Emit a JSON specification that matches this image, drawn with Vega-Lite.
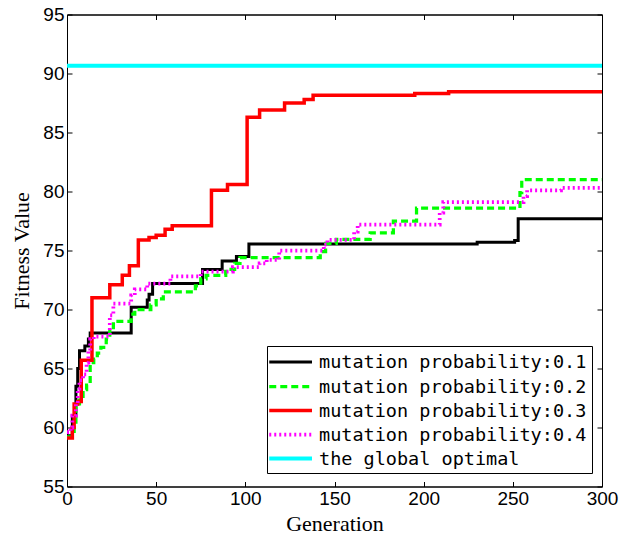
{
  "$schema": "https://vega.github.io/schema/vega-lite/v6.json",
  "width": 535,
  "height": 472,
  "autosize": {"type": "none"},
  "padding": {"left": 67, "top": 14.5, "right": 18, "bottom": 49.5},
  "background": "white",
  "config": {
    "view": {"stroke": "black", "strokeWidth": 1},
    "axis": {
      "domainColor": "black", "domainWidth": 1, "tickColor": "black", "tickWidth": 1,
      "tickSize": -5, "grid": false, "labelFlush": false,
      "labelColor": "black", "labelFont": "Liberation Sans", "labelFontSize": 19,
      "titleColor": "black", "titleFont": "Liberation Serif", "titleFontSize": 22, "titleFontWeight": "normal"
    },
    "legend": {
      "orient": "none", "legendX": 200, "legendY": 331.5,
      "fillColor": "white", "strokeColor": "black", "padding": 5,
      "labelFont": "DejaVu Sans Mono", "labelFontSize": 18.5, "labelColor": "black", "labelLimit": 400,
      "symbolType": "M-1.5,0H3", "symbolSize": 361, "labelOffset": 24, "rowPadding": 3
    }
  },
  "data": {"values": [
    {"series": "mutation probability:0.1", "gen": 0, "value": 59.3},
    {"series": "mutation probability:0.1", "gen": 3, "value": 61.0},
    {"series": "mutation probability:0.1", "gen": 5, "value": 63.5},
    {"series": "mutation probability:0.1", "gen": 6, "value": 65.0},
    {"series": "mutation probability:0.1", "gen": 7, "value": 66.5},
    {"series": "mutation probability:0.1", "gen": 10, "value": 66.9},
    {"series": "mutation probability:0.1", "gen": 12, "value": 67.5},
    {"series": "mutation probability:0.1", "gen": 13, "value": 68.0},
    {"series": "mutation probability:0.1", "gen": 36, "value": 70.2},
    {"series": "mutation probability:0.1", "gen": 45, "value": 70.8},
    {"series": "mutation probability:0.1", "gen": 46, "value": 71.3},
    {"series": "mutation probability:0.1", "gen": 48, "value": 72.2},
    {"series": "mutation probability:0.1", "gen": 76, "value": 73.4},
    {"series": "mutation probability:0.1", "gen": 87, "value": 74.1},
    {"series": "mutation probability:0.1", "gen": 95, "value": 74.5},
    {"series": "mutation probability:0.1", "gen": 102, "value": 75.55},
    {"series": "mutation probability:0.1", "gen": 230, "value": 75.7},
    {"series": "mutation probability:0.1", "gen": 251, "value": 75.85},
    {"series": "mutation probability:0.1", "gen": 253, "value": 77.7},
    {"series": "mutation probability:0.1", "gen": 300, "value": 77.7},

    {"series": "mutation probability:0.2", "gen": 0, "value": 59.2},
    {"series": "mutation probability:0.2", "gen": 4, "value": 60.0},
    {"series": "mutation probability:0.2", "gen": 5, "value": 61.8},
    {"series": "mutation probability:0.2", "gen": 7, "value": 62.5},
    {"series": "mutation probability:0.2", "gen": 9, "value": 63.2},
    {"series": "mutation probability:0.2", "gen": 11, "value": 63.6},
    {"series": "mutation probability:0.2", "gen": 13, "value": 65.5},
    {"series": "mutation probability:0.2", "gen": 15, "value": 65.8},
    {"series": "mutation probability:0.2", "gen": 17, "value": 66.3},
    {"series": "mutation probability:0.2", "gen": 19, "value": 66.8},
    {"series": "mutation probability:0.2", "gen": 22, "value": 67.5},
    {"series": "mutation probability:0.2", "gen": 24, "value": 68.3},
    {"series": "mutation probability:0.2", "gen": 26, "value": 69.0},
    {"series": "mutation probability:0.2", "gen": 36, "value": 69.6},
    {"series": "mutation probability:0.2", "gen": 38, "value": 70.0},
    {"series": "mutation probability:0.2", "gen": 47, "value": 70.4},
    {"series": "mutation probability:0.2", "gen": 50, "value": 70.9},
    {"series": "mutation probability:0.2", "gen": 54, "value": 71.5},
    {"series": "mutation probability:0.2", "gen": 72, "value": 72.0},
    {"series": "mutation probability:0.2", "gen": 75, "value": 72.6},
    {"series": "mutation probability:0.2", "gen": 78, "value": 72.9},
    {"series": "mutation probability:0.2", "gen": 89, "value": 73.4},
    {"series": "mutation probability:0.2", "gen": 94, "value": 73.9},
    {"series": "mutation probability:0.2", "gen": 97, "value": 74.4},
    {"series": "mutation probability:0.2", "gen": 142, "value": 74.9},
    {"series": "mutation probability:0.2", "gen": 145, "value": 75.6},
    {"series": "mutation probability:0.2", "gen": 151, "value": 75.95},
    {"series": "mutation probability:0.2", "gen": 170, "value": 76.5},
    {"series": "mutation probability:0.2", "gen": 183, "value": 77.5},
    {"series": "mutation probability:0.2", "gen": 196, "value": 78.6},
    {"series": "mutation probability:0.2", "gen": 254, "value": 79.9},
    {"series": "mutation probability:0.2", "gen": 255, "value": 81.0},
    {"series": "mutation probability:0.2", "gen": 300, "value": 81.0},

    {"series": "mutation probability:0.3", "gen": 0, "value": 59.1},
    {"series": "mutation probability:0.3", "gen": 3, "value": 60.0},
    {"series": "mutation probability:0.3", "gen": 4, "value": 62.0},
    {"series": "mutation probability:0.3", "gen": 6, "value": 62.2},
    {"series": "mutation probability:0.3", "gen": 8, "value": 65.7},
    {"series": "mutation probability:0.3", "gen": 14, "value": 71.0},
    {"series": "mutation probability:0.3", "gen": 24, "value": 72.1},
    {"series": "mutation probability:0.3", "gen": 31, "value": 72.9},
    {"series": "mutation probability:0.3", "gen": 35, "value": 73.7},
    {"series": "mutation probability:0.3", "gen": 40, "value": 75.9},
    {"series": "mutation probability:0.3", "gen": 46, "value": 76.1},
    {"series": "mutation probability:0.3", "gen": 50, "value": 76.3},
    {"series": "mutation probability:0.3", "gen": 55, "value": 76.8},
    {"series": "mutation probability:0.3", "gen": 59, "value": 77.1},
    {"series": "mutation probability:0.3", "gen": 81, "value": 80.1},
    {"series": "mutation probability:0.3", "gen": 90, "value": 80.6},
    {"series": "mutation probability:0.3", "gen": 101, "value": 86.3},
    {"series": "mutation probability:0.3", "gen": 108, "value": 86.9},
    {"series": "mutation probability:0.3", "gen": 122, "value": 87.5},
    {"series": "mutation probability:0.3", "gen": 133, "value": 87.8},
    {"series": "mutation probability:0.3", "gen": 138, "value": 88.15},
    {"series": "mutation probability:0.3", "gen": 195, "value": 88.3},
    {"series": "mutation probability:0.3", "gen": 214, "value": 88.45},
    {"series": "mutation probability:0.3", "gen": 300, "value": 88.45},

    {"series": "mutation probability:0.4", "gen": 0, "value": 59.6},
    {"series": "mutation probability:0.4", "gen": 2, "value": 60.0},
    {"series": "mutation probability:0.4", "gen": 3, "value": 61.0},
    {"series": "mutation probability:0.4", "gen": 5, "value": 62.0},
    {"series": "mutation probability:0.4", "gen": 6, "value": 63.3},
    {"series": "mutation probability:0.4", "gen": 7, "value": 64.0},
    {"series": "mutation probability:0.4", "gen": 9, "value": 64.5},
    {"series": "mutation probability:0.4", "gen": 11, "value": 65.5},
    {"series": "mutation probability:0.4", "gen": 12, "value": 66.5},
    {"series": "mutation probability:0.4", "gen": 13, "value": 67.5},
    {"series": "mutation probability:0.4", "gen": 15, "value": 67.7},
    {"series": "mutation probability:0.4", "gen": 24, "value": 69.5},
    {"series": "mutation probability:0.4", "gen": 26, "value": 70.5},
    {"series": "mutation probability:0.4", "gen": 36, "value": 71.2},
    {"series": "mutation probability:0.4", "gen": 38, "value": 71.7},
    {"series": "mutation probability:0.4", "gen": 45, "value": 72.2},
    {"series": "mutation probability:0.4", "gen": 58, "value": 72.8},
    {"series": "mutation probability:0.4", "gen": 75, "value": 73.2},
    {"series": "mutation probability:0.4", "gen": 93, "value": 73.6},
    {"series": "mutation probability:0.4", "gen": 108, "value": 73.9},
    {"series": "mutation probability:0.4", "gen": 112, "value": 74.2},
    {"series": "mutation probability:0.4", "gen": 119, "value": 75.0},
    {"series": "mutation probability:0.4", "gen": 144, "value": 75.5},
    {"series": "mutation probability:0.4", "gen": 146, "value": 75.9},
    {"series": "mutation probability:0.4", "gen": 161, "value": 76.6},
    {"series": "mutation probability:0.4", "gen": 163, "value": 77.2},
    {"series": "mutation probability:0.4", "gen": 209, "value": 78.2},
    {"series": "mutation probability:0.4", "gen": 211, "value": 79.1},
    {"series": "mutation probability:0.4", "gen": 256, "value": 79.6},
    {"series": "mutation probability:0.4", "gen": 258, "value": 80.1},
    {"series": "mutation probability:0.4", "gen": 277, "value": 80.3},
    {"series": "mutation probability:0.4", "gen": 300, "value": 80.3},

    {"series": "the global optimal", "gen": 0, "value": 90.65},
    {"series": "the global optimal", "gen": 300, "value": 90.65}
  ]},
  "layer": [
    {
      "transform": [{"filter": "datum.series !== 'the global optimal'"}],
      "mark": {"type": "line", "interpolate": "step-after", "strokeJoin": "miter"},
      "encoding": {
        "x": {"field": "gen", "type": "quantitative", "scale": {"domain": [0, 300], "nice": false},
              "axis": {"values": [0, 50, 100, 150, 200, 250, 300], "title": "Generation", "labelPadding": 8,
                       "titleX": 267.5, "titleY": 44, "titleBaseline": "alphabetic", "titleAlign": "center"}},
        "y": {"field": "value", "type": "quantitative", "scale": {"domain": [55, 95], "nice": false, "zero": false},
              "axis": {"values": [55, 60, 65, 70, 75, 80, 85, 90, 95], "title": "Fitness Value", "labelPadding": 8,
                       "titleX": -38.7, "titleY": 236, "titleBaseline": "alphabetic", "titleAlign": "center", "titleAngle": -90}},
        "color": {"field": "series", "type": "nominal",
                  "scale": {"domain": ["mutation probability:0.1", "mutation probability:0.2", "mutation probability:0.3", "mutation probability:0.4", "the global optimal"],
                            "range": ["#000000", "#00ff00", "#ff0000", "#ff00ff", "#00ffff"]},
                  "legend": {"title": null}},
        "strokeDash": {"field": "series", "type": "nominal",
                  "scale": {"domain": ["mutation probability:0.1", "mutation probability:0.2", "mutation probability:0.3", "mutation probability:0.4", "the global optimal"],
                            "range": [[1, 0], [7, 4], [1, 0], [2, 3], [1, 0]]},
                  "legend": {"title": null}},
        "strokeWidth": {"field": "series", "type": "nominal",
                  "scale": {"domain": ["mutation probability:0.1", "mutation probability:0.2", "mutation probability:0.3", "mutation probability:0.4", "the global optimal"],
                            "range": [3, 4, 5.5, 3.5, 4]},
                  "legend": {"title": null}}
      }
    },
    {
      "transform": [{"filter": "datum.series === 'the global optimal'"}],
      "mark": {"type": "line", "interpolate": "step-after"},
      "encoding": {
        "x": {"field": "gen", "type": "quantitative", "axis": {"orient": "top", "values": [0, 50, 100, 150, 200, 250, 300], "labels": false, "title": null}},
        "y": {"field": "value", "type": "quantitative", "axis": {"orient": "right", "values": [55, 60, 65, 70, 75, 80, 85, 90, 95], "labels": false, "title": null}},
        "color": {"field": "series", "type": "nominal", "legend": {"title": null}},
        "strokeDash": {"field": "series", "type": "nominal", "legend": {"title": null}},
        "strokeWidth": {"field": "series", "type": "nominal", "legend": {"title": null}}
      }
    }
  ],
  "resolve": {"axis": {"x": "independent", "y": "independent"}}
}
